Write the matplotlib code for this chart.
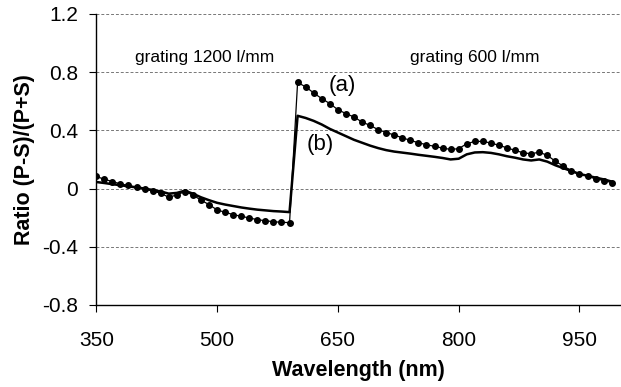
import matplotlib
matplotlib.use("Agg")
import matplotlib.pyplot as plt

plt.rcParams['font.family'] = ['Liberation Sans', 'DejaVu Sans']

# curve (a): measured points, 10 nm steps
wl_a1 = [350, 360, 370, 380, 390, 400, 410, 420, 430, 440, 450, 460, 470, 480,
         490, 500, 510, 520, 530, 540, 550, 560, 570, 580, 590]
ratio_a1 = [0.083, 0.064, 0.048, 0.032, 0.021, 0.009, -0.002, -0.018, -0.032, -0.06,
            -0.044, -0.021, -0.044, -0.08, -0.11, -0.147, -0.163, -0.179, -0.191,
            -0.202, -0.214, -0.221, -0.228, -0.232, -0.234]
wl_a2 = [600, 610, 620, 630, 640, 650, 660, 670, 680, 690, 700, 710, 720, 730, 740,
         750, 760, 770, 780, 790, 800, 810, 820, 830, 840, 850, 860, 870, 880, 890,
         900, 910, 920, 930, 940, 950, 960, 970, 980, 990]
ratio_a2 = [0.729, 0.699, 0.657, 0.618, 0.584, 0.542, 0.515, 0.492, 0.457, 0.434,
            0.405, 0.385, 0.368, 0.349, 0.331, 0.315, 0.301, 0.29, 0.278, 0.269,
            0.274, 0.308, 0.324, 0.324, 0.313, 0.297, 0.28, 0.262, 0.246, 0.239,
            0.25, 0.228, 0.188, 0.154, 0.124, 0.101, 0.085, 0.067, 0.055, 0.041]

# curve (b)
wl_b = [350, 360, 370, 380, 390, 400, 410, 420, 430, 440, 450, 460, 470, 480, 490,
        500, 510, 520, 530, 540, 550, 560, 570, 580, 590,
        600, 610, 620, 630, 640, 650, 660, 670, 680, 690, 700, 710, 720, 730, 740,
        750, 760, 770, 780, 790, 800, 810, 820, 830, 840, 850, 860, 870, 880, 890,
        900, 910, 920, 930, 940, 950, 960, 970, 980, 990]
ratio_b = [0.045, 0.038, 0.03, 0.023, 0.015, 0.008, 0.0, -0.01, -0.02, -0.035, -0.03,
           -0.015, -0.035, -0.06, -0.08, -0.098, -0.11, -0.12, -0.13, -0.138, -0.145,
           -0.15, -0.155, -0.158, -0.162,
           0.5, 0.485, 0.465, 0.44, 0.41, 0.385, 0.36, 0.335, 0.315, 0.295, 0.278,
           0.264, 0.254, 0.247, 0.24, 0.232, 0.225, 0.218, 0.21, 0.2, 0.205, 0.235,
           0.248, 0.25, 0.245, 0.235, 0.222, 0.212, 0.2, 0.193, 0.2, 0.185, 0.16,
           0.14, 0.12, 0.1, 0.088, 0.075, 0.063, 0.048]

xticks = [350, 500, 650, 800, 950]
yticks = [-0.8, -0.4, 0, 0.4, 0.8, 1.2]
ytick_labels = ['-0.8', '-0.4', '0', '0.4', '0.8', '1.2']

fig = plt.figure(figsize=(6.21, 3.87), dpi=100)
ax = fig.add_axes([0.155, 0.212, 0.843, 0.752])

ax.plot(wl_b, ratio_b, color='black', lw=1.8, zorder=3)
ax.plot(wl_a1 + wl_a2, ratio_a1 + ratio_a2, color='black', lw=0.9,
        marker='o', markersize=4, zorder=4)

ax.set_xlim(350, 1000)
ax.set_ylim(-0.8, 1.2)
ax.set_xticks(xticks)
ax.set_yticks(yticks)
ax.set_yticklabels(ytick_labels)
ax.tick_params(direction='out', length=5, width=0.8, labelsize=15)
ax.tick_params(axis='x', pad=14)
ax.tick_params(axis='y', pad=8)

for v in yticks[1:]:
    ax.axhline(v, color='#777777', lw=0.7, ls=(0, (3, 2)), zorder=1)

for s in ['top', 'right']:
    ax.spines[s].set_visible(False)
ax.spines['left'].set_linewidth(1.0)
ax.spines['bottom'].set_linewidth(1.0)

ax.set_xlabel('Wavelength (nm)', fontsize=15.5, fontweight='bold', labelpad=7)
ax.set_ylabel('Ratio (P-S)/(P+S)', fontsize=15.5, fontweight='bold', labelpad=5)

ax.text(485, 0.9, 'grating 1200 l/mm', fontsize=12.5, ha='center', va='center')
ax.text(820, 0.9, 'grating 600 l/mm', fontsize=12.5, ha='center', va='center')
ax.text(656, 0.71, '(a)', fontsize=16, ha='center', va='center')
ax.text(628, 0.30, '(b)', fontsize=16, ha='center', va='center')

fig.savefig('out.png', dpi=100)
